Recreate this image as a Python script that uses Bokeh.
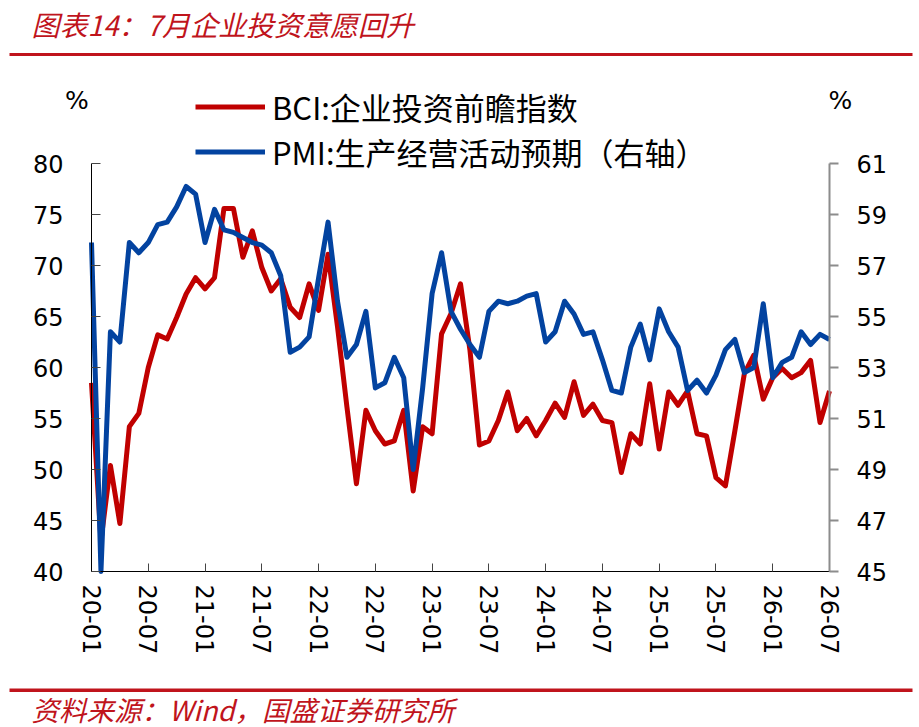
from bokeh.plotting import figure
from bokeh.models import (Range1d, LinearAxis, FixedTicker, Legend, LegendItem,
                          Label, BoxAnnotation, ColumnDataSource)
from bokeh.embed import file_html
from bokeh.resources import INLINE

# ---- data -----------------------------------------------------------------
months = [f"{y:02d}-{m:02d}" for y in range(20, 27) for m in range(1, 13)][:79]

bci = [58.5, 43.0, 50.4, 44.7, 54.2, 55.5, 60.0, 63.2, 62.8, 64.9, 67.2, 68.8,
       67.7, 68.8, 75.6, 75.6, 70.8, 73.4, 69.8, 67.5, 68.7, 65.9, 64.9, 68.2,
       65.6, 71.1, 64.0, 56.1, 48.6, 55.8, 53.8, 52.5, 52.8, 55.8, 47.9, 54.2,
       53.5, 63.3, 65.3, 68.2, 61.7, 52.4, 52.8, 54.8, 57.6, 53.8, 55.0, 53.3,
       54.8, 56.5, 55.1, 58.6, 55.3, 56.4, 54.8, 54.6, 49.7, 53.5, 52.5, 58.4,
       52.0, 57.6, 56.3, 57.7, 53.5, 53.3, 49.2, 48.4, 53.8, 59.4, 61.2, 56.9,
       59.0, 59.9, 59.0, 59.5, 60.7, 54.6, 57.7]

pmi = [57.9, 45.0, 54.4, 54.0, 57.9, 57.5, 57.9, 58.6, 58.7, 59.3, 60.1, 59.8,
       57.9, 59.2, 58.4, 58.3, 58.1, 57.9, 57.8, 57.5, 56.6, 53.6, 53.8, 54.2,
       56.5, 58.7, 55.6, 53.4, 53.9, 55.2, 52.2, 52.4, 53.4, 52.6, 49.0, 52.2,
       55.9, 57.5, 55.2, 54.5, 53.9, 53.4, 55.2, 55.6, 55.5, 55.6, 55.8, 55.9,
       54.0, 54.4, 55.6, 55.1, 54.3, 54.4, 53.3, 52.1, 52.0, 53.8, 54.7, 53.3,
       55.3, 54.4, 53.8, 52.1, 52.5, 52.0, 52.7, 53.7, 54.1, 52.8, 53.0, 55.5,
       52.6, 53.2, 53.4, 54.4, 53.9, 54.3, 54.1]

tick_labels = ["20-01", "20-07", "21-01", "21-07", "22-01", "22-07", "23-01",
               "23-07", "24-01", "24-07", "25-01", "25-07", "26-01", "26-07"]
left_ticks = [40, 45, 50, 55, 60, 65, 70, 75, 80]
right_ticks = [45, 47, 49, 51, 53, 55, 57, 59, 61]

title_text = "图表14：7月企业投资意愿回升"
source_text = "资料来源：Wind，国盛证券研究所"
bci_name = "BCI:企业投资前瞻指数"
pmi_name = "PMI:生产经营活动预期（右轴）"
unit_text = "%"

# ---- layout geometry (pixels) ----------------------------------------------
W, H = 919, 727
PX_L, PX_R, PY_T, PY_B = 91, 829, 163, 571      # plot area edges on the canvas
n = len(months) - 1
xs = (PX_R - PX_L) / n
ys_l = (PY_B - PY_T) / (left_ticks[-1] - left_ticks[0])
ys_r = (PY_B - PY_T) / (right_ticks[-1] - right_ticks[0])

RED = "#C00000"
BLUE = "#0343A0"
BRAND = "#C0141C"
NUM_FONT = "DejaVu Sans"
CJK_FONT = "Noto Sans CJK SC"

src = ColumnDataSource(dict(x=list(range(len(months))), bci=bci, pmi=pmi))

p = figure(width=W, height=H, output_backend="svg", toolbar_location=None,
           x_range=Range1d(-PX_L / xs, n + (W - PX_R) / xs),
           y_range=Range1d(left_ticks[0] - (H - PY_B) / ys_l, left_ticks[0] + PY_B / ys_l),
           min_border=0)
p.extra_y_ranges = {"r": Range1d(right_ticks[0] - (H - PY_B) / ys_r,
                                 right_ticks[0] + PY_B / ys_r)}
p.grid.visible = False
p.outline_line_color = None
p.background_fill_color = "white"
p.border_fill_color = "white"

# x axis
xa = p.xaxis[0]
xa.fixed_location = left_ticks[0]
xa.bounds = (0, n)
xa.ticker = FixedTicker(ticks=[months.index(t) for t in tick_labels])
xa.major_label_overrides = {months.index(t): t for t in tick_labels}
xa.major_label_orientation = "vertical"
xa.major_tick_in = 8
xa.major_tick_out = 0
xa.minor_tick_line_color = None
xa.major_tick_line_color = "#444444"
xa.axis_line_color = "black"
xa.major_label_standoff = 13
xa.major_label_text_font = NUM_FONT
xa.major_label_text_font_size = "24px"
xa.major_label_text_color = "black"

# left axis
ya = p.yaxis[0]
ya.fixed_location = 0
ya.bounds = (left_ticks[0], left_ticks[-1])
ya.ticker = FixedTicker(ticks=left_ticks)
ya.major_tick_in = 9
ya.major_tick_out = 0
ya.minor_tick_line_color = None
ya.major_tick_line_color = "#444444"
ya.axis_line_color = "black"
ya.major_label_standoff = 28
ya.major_label_text_font = NUM_FONT
ya.major_label_text_font_size = "24px"
ya.major_label_text_color = "black"

# right axis
ra = LinearAxis(y_range_name="r", ticker=FixedTicker(ticks=right_ticks),
                fixed_location=n, bounds=(right_ticks[0], right_ticks[-1]))
ra.major_tick_in = 0
ra.major_tick_out = 9
ra.minor_tick_line_color = None
ra.axis_line_color = "#8C8C8C"
ra.axis_line_width = 2
ra.major_tick_line_color = "#8C8C8C"
ra.major_tick_line_width = 2
ra.major_label_standoff = 18
ra.major_label_text_font = NUM_FONT
ra.major_label_text_font_size = "24px"
ra.major_label_text_color = "black"
p.add_layout(ra, "right")

# series
r_bci = p.line("x", "bci", source=src, line_color=RED, line_width=5, line_join="round")
r_pmi = p.line("x", "pmi", source=src, y_range_name="r", line_color=BLUE,
               line_width=5, line_join="round")

legend = Legend(items=[LegendItem(label=bci_name, renderers=[r_bci]),
                       LegendItem(label=pmi_name, renderers=[r_pmi])],
                location=(195, H - 173.5), orientation="vertical",
                glyph_width=70, glyph_height=45, label_height=45,
                label_standoff=7, spacing=0, padding=0, margin=0,
                border_line_color=None, background_fill_alpha=0,
                label_text_font=CJK_FONT, label_text_font_size="31px",
                label_text_color="black")
p.add_layout(legend)

# unit labels
for xx in (76.5, 840):
    p.add_layout(Label(x=xx, y=H - 100, x_units="screen", y_units="screen", text=unit_text,
                       text_font=NUM_FONT, text_font_size="25px", text_color="black",
                       text_align="center", text_baseline="middle"))

# title and source
p.add_layout(Label(x=31, y=H - 23, x_units="screen", y_units="screen", text=title_text,
                   text_font=CJK_FONT, text_font_size="28px", text_font_style="italic",
                   text_color=BRAND, text_baseline="middle"))
p.add_layout(Label(x=31, y=H - 708, x_units="screen", y_units="screen", text=source_text,
                   text_font=CJK_FONT, text_font_size="27.5px", text_font_style="italic",
                   text_color=BRAND, text_baseline="middle"))

# red rules
for t, b in ((52.5, 55.5), (688.0, 691.5)):
    p.add_layout(BoxAnnotation(left=9, right=912, top=H - t, bottom=H - b,
                               left_units="screen", right_units="screen",
                               top_units="screen", bottom_units="screen",
                               fill_color=BRAND, fill_alpha=1.0, line_color=None))

open("out.html", "w").write(file_html(p, INLINE))
